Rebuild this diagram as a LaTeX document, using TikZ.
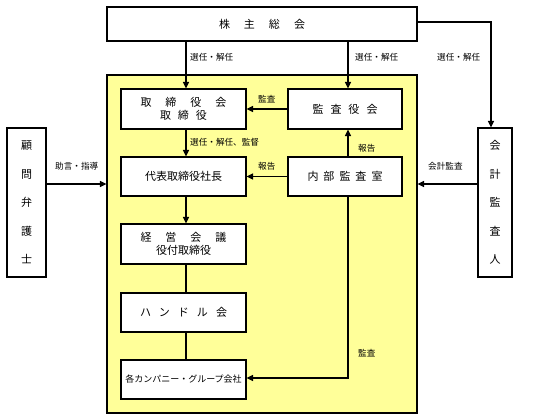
\documentclass[tikz,border=0pt]{standalone}
\usepackage{fontspec}
\setmainfont{Noto Sans CJK JP}
\usetikzlibrary{arrows.meta,calc}
\newcommand\gp[1]{\hspace{#1pt}}
\definecolor{corpyellow}{RGB}{255,255,153}
\tikzset{
  box/.style={draw=black,line width=1.1pt,fill=white,rectangle,inner sep=0pt,align=center,font=\fontsize{11}{15}\selectfont},
  lbl/.style={anchor=west,inner sep=0pt,font=\fontsize{8.6}{10}\selectfont},
  arr/.style={line width=1.1pt,-{Triangle[length=6.5pt,width=6pt]}},
  ln/.style={line width=1.1pt}
}
\begin{document}
\begin{tikzpicture}[x=1pt,y=-1pt]
\useasboundingbox (0,0) rectangle (538,420);
\node[draw=black,line width=1.1pt,fill=corpyellow,minimum width=310pt,minimum height=338pt,inner sep=0pt] (corp) at (262,244) {};
\node[box,minimum width=310pt,minimum height=34pt] (top) at (262,24) {株\gp{14}主\gp{14}総\gp{14}会};
\node[box,minimum width=125pt,minimum height=40pt] (tor) at (183.5,109) {取\gp{14}締\gp{14}役\gp{14}会\\[-2pt]取\gp{7}締\gp{7}役};
\node[box,minimum width=114pt,minimum height=40pt] (kansa) at (345,109) {監\gp{7}査\gp{7}役\gp{7}会};
\node[box,minimum width=125pt,minimum height=39pt] (daihyo) at (183.5,176.5) {代表取締役社長};
\node[box,minimum width=114pt,minimum height=39pt] (naibu) at (345,176.5) {内\gp{5}部\gp{5}監\gp{5}査\gp{5}室};
\node[box,minimum width=125pt,minimum height=40pt] (keiei) at (183.5,244) {経\gp{14}営\gp{14}会\gp{14}議\\[-2pt]役付取締役};
\node[box,minimum width=125pt,minimum height=39pt] (handle) at (183.5,312.5) {ハ\gp{8}ン\gp{8}ド\gp{8}ル\gp{8}会};
\node[box,minimum width=125pt,minimum height=39pt,font=\fontsize{9}{12}\selectfont] (company) at (183.5,379.5) {各カンパニー・グループ会社};
\node[box,minimum width=39pt,minimum height=149pt,font=\fontsize{11}{28.5}\selectfont] (bengo) at (26.5,202.5) {顧\\問\\弁\\護\\士};
\node[box,minimum width=34pt,minimum height=149pt,font=\fontsize{11}{28.5}\selectfont] (kaikei) at (495,202.5) {会\\計\\監\\査\\人};
\coordinate (xa) at (186,0);
\coordinate (xb) at (348,0);
\coordinate (xc) at (491,0);
\coordinate (ya) at (0,22);
\coordinate (yb) at (0,184);
\coordinate (yc) at (0,378);
% connectors
\draw[arr] (top.south -| xa) -- (tor.north -| xa);
\draw[arr] (top.south -| xb) -- (kansa.north -| xb);
\draw[arr] (top.east |- ya) -| (kaikei.north -| xc);
\draw[arr] (kansa.west) -- (tor.east);
\draw[arr] (tor.south -| xa) -- (daihyo.north -| xa);
\draw[arr] (naibu.north -| xb) -- (kansa.south -| xb);
\draw[arr] (naibu.west) -- (daihyo.east);
\draw[arr] (daihyo.south -| xa) -- (keiei.north -| xa);
\draw[ln] (keiei.south -| xa) -- (handle.north -| xa);
\draw[ln] (handle.south -| xa) -- (company.north -| xa);
\draw[arr] (naibu.south -| xb) |- (company.east |- yc);
\draw[arr] (bengo.east |- yb) -- (corp.west |- yb);
\draw[arr] (kaikei.west |- yb) -- (corp.east |- yb);
% labels
\node[lbl] (l1) at (190,57) {選任・解任};
\node[lbl] (l2) at (355,57) {選任・解任};
\node[lbl] (l3) at (437,57) {選任・解任};
\node[lbl] (l4) at (258,99) {監査};
\node[lbl] (l5) at (190,142) {選任・解任、監督};
\node[lbl] (l6) at (358,148) {報告};
\node[lbl] (l7) at (258,166) {報告};
\node[lbl] (l8) at (55,166) {助言・指導};
\node[lbl] (l9) at (428,166) {会計監査};
\node[lbl] (l10) at (358,353) {監査};
\end{tikzpicture}
\end{document}
